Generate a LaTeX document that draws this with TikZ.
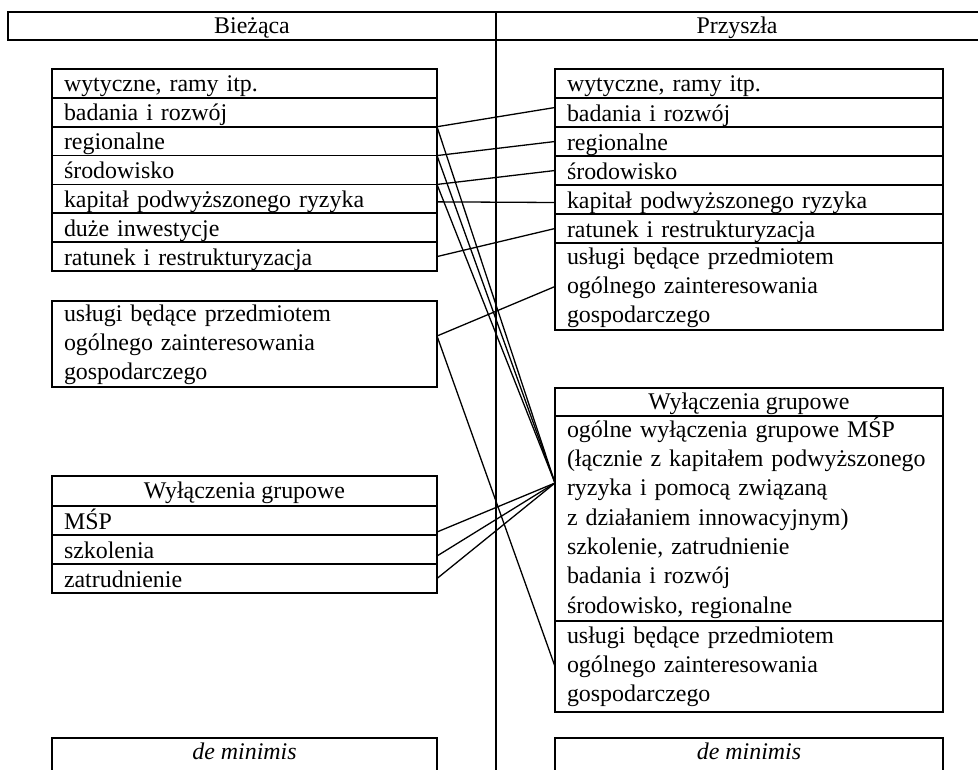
\documentclass[tikz,border=0pt]{standalone}
\usepackage{fontspec}
\setmainfont{Liberation Serif}
\usetikzlibrary{calc}
\newcommand\mkbox[5]{\node[box,minimum width=#4bp,minimum height=#5bp] (#1) at (#2,#3) {};}
\begin{document}
\begin{tikzpicture}[x=1bp,y=-1bp,
  box/.style={draw,line width=1.6bp,rectangle,inner sep=0pt,outer sep=0pt,anchor=north west},
  lbl/.style={inner sep=0pt,outer sep=0pt,anchor=base west,font=\fontsize{24}{29.5}\selectfont,text width=380bp,align=left},
  ctr/.style={inner sep=0pt,outer sep=0pt,anchor=base,font=\fontsize{24}{29.5}\selectfont},
  con/.style={line width=1.3bp}]
\useasboundingbox (0,0) rectangle (978,770);
\clip (0,0) rectangle (978,770);
% header
\mkbox{HL}{8}{12}{488}{28}
\mkbox{HR}{496}{12}{492}{28}
\node[ctr] at ([yshift=-22bp]HL.north) {Bieżąca};
\node[ctr] at ($(HR.north west)+(241,22)$) {Przyszła};
\coordinate (divbot) at (496,775);
\draw[line width=1.6bp] (HL.north east) -- (divbot);
% left rows
\mkbox{L1}{52}{69}{385}{28.86}
\mkbox{L2}{52}{97.86}{385}{28.86}
\mkbox{L3}{52}{126.71}{385}{28.86}
\mkbox{L4}{52}{155.57}{385}{28.86}
\mkbox{L5}{52}{184.43}{385}{28.86}
\mkbox{L6}{52}{213.29}{385}{28.86}
\mkbox{L7}{52}{242.14}{385}{28.86}
\node[lbl] at ([xshift=12bp,yshift=-23bp]L1.north west) {wytyczne, ramy itp.};
\node[lbl] at ([xshift=12bp,yshift=-23bp]L2.north west) {badania i rozwój};
\node[lbl] at ([xshift=12bp,yshift=-23bp]L3.north west) {regionalne};
\node[lbl] at ([xshift=12bp,yshift=-23bp]L4.north west) {środowisko};
\node[lbl] at ([xshift=12bp,yshift=-23bp]L5.north west) {kapitał podwyższonego ryzyka};
\node[lbl] at ([xshift=12bp,yshift=-23bp]L6.north west) {duże inwestycje};
\node[lbl] at ([xshift=12bp,yshift=-23bp]L7.north west) {ratunek i restrukturyzacja};
% left services
\mkbox{LU}{52}{301}{385}{86}
\node[lbl] at ([xshift=12bp,yshift=-20bp]LU.north west) {usługi będące przedmiotem\\ogólnego zainteresowania\\gospodarczego};
% left block exemptions
\mkbox{LWh}{52}{476}{385}{30}
\mkbox{LW1}{52}{506}{385}{29}
\mkbox{LW2}{52}{535}{385}{29}
\mkbox{LW3}{52}{564}{385}{29}
\node[ctr] at ([yshift=-22bp]LWh.north) {Wyłączenia grupowe};
\node[lbl] at ([xshift=12bp,yshift=-23bp]LW1.north west) {MŚP};
\node[lbl] at ([xshift=12bp,yshift=-23bp]LW2.north west) {szkolenia};
\node[lbl] at ([xshift=12bp,yshift=-23bp]LW3.north west) {zatrudnienie};
% left de minimis
\mkbox{LDM}{52}{738}{385}{60}
\node[ctr] at ([yshift=-21bp]LDM.north) {\textit{de minimis}};
% right rows
\mkbox{R1}{555}{69}{388}{29}
\mkbox{R2}{555}{98}{388}{29}
\mkbox{R3}{555}{127}{388}{29}
\mkbox{R4}{555}{156}{388}{29}
\mkbox{R5}{555}{185}{388}{29}
\mkbox{R6}{555}{214}{388}{29}
\node[lbl] at ([xshift=12bp,yshift=-23bp]R1.north west) {wytyczne, ramy itp.};
\node[lbl] at ([xshift=12bp,yshift=-23bp]R2.north west) {badania i rozwój};
\node[lbl] at ([xshift=12bp,yshift=-23bp]R3.north west) {regionalne};
\node[lbl] at ([xshift=12bp,yshift=-23bp]R4.north west) {środowisko};
\node[lbl] at ([xshift=12bp,yshift=-23bp]R5.north west) {kapitał podwyższonego ryzyka};
\node[lbl] at ([xshift=12bp,yshift=-23bp]R6.north west) {ratunek i restrukturyzacja};
\mkbox{RU1}{555}{243}{388}{87}
\node[lbl] at ([xshift=12bp,yshift=-21bp]RU1.north west) {usługi będące przedmiotem\\ogólnego zainteresowania\\gospodarczego};
% right block exemptions
\mkbox{RWh}{555}{388}{388}{28}
\mkbox{RWb}{555}{416}{388}{205}
\mkbox{RU2}{555}{621}{388}{91}
\node[ctr] at ([yshift=-21bp]RWh.north) {Wyłączenia grupowe};
\node[lbl] at ([xshift=12bp,yshift=-21bp]RWb.north west) {ogólne wyłączenia grupowe MŚP\\(łącznie z kapitałem podwyższonego\\ryzyka i pomocą związaną\\z działaniem innowacyjnym)\\szkolenie, zatrudnienie\\badania i rozwój\\środowisko, regionalne};
\node[lbl] at ([xshift=12bp,yshift=-22bp]RU2.north west) {usługi będące przedmiotem\\ogólnego zainteresowania\\gospodarczego};
% right de minimis
\mkbox{RDM}{555}{738}{388}{60}
\node[ctr] at ([yshift=-21bp]RDM.north) {\textit{de minimis}};
% connectors
\draw[con] (L2.south east) -- ([yshift=5bp]R2.west);
\draw[con] (L3.south east) -- (R3.west);
\draw[con] (L4.south east) -- (R4.west);
\draw[con] ([yshift=-3bp]L5.east) -- ([yshift=-3bp]R5.west);
\draw[con] (L7.east) -- (R6.west);
\coordinate (lu) at ([yshift=8bp]LU.east);
\draw[con] (lu) -- (RU1.west);
\draw[con] (lu) -- (RU2.west);
\coordinate (conv) at ([yshift=-67bp]RWb.north west);
\draw[con] (L2.south east) -- (conv);
\draw[con] (L3.south east) -- (conv);
\draw[con] (L4.south east) -- (conv);
\draw[con] ([yshift=3bp]LW1.south east) -- (conv);
\draw[con] ([yshift=8bp]LW2.south east) -- (conv);
\draw[con] (LW3.east) -- (conv);
\end{tikzpicture}
\end{document}
